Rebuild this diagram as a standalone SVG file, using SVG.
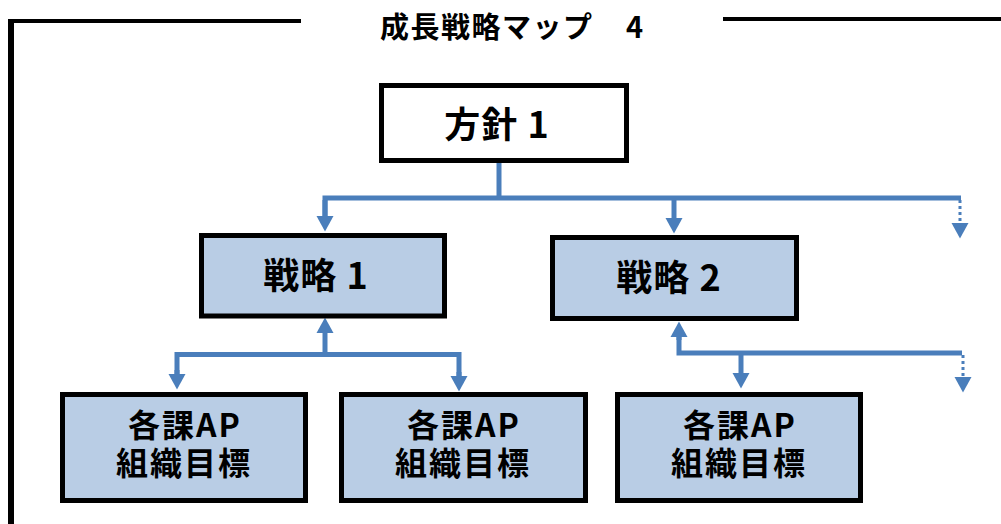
<svg xmlns="http://www.w3.org/2000/svg" width="1001" height="524" viewBox="0 0 1001 524">
<style>
text{font-family:"Noto Sans CJK JP","Liberation Sans",sans-serif;font-weight:bold;fill:#000}
.box{stroke:#000;stroke-width:5}
.blue{fill:#B9CDE5}
.conn{fill:none;stroke:#4A7EBB;stroke-width:5}
.dot{fill:none;stroke:#4A7EBB;stroke-width:3;stroke-dasharray:3 3}
.frame{stroke:#000;fill:none}
.ap{font-size:32px;letter-spacing:2px;text-anchor:middle}
</style>
<defs>
<marker id="ah" markerUnits="userSpaceOnUse" markerWidth="16" markerHeight="18" refX="0" refY="8.5" orient="auto" viewBox="0 0 16 17">
<path d="M0,0 L15.5,8.5 L0,17 z" fill="#4A7EBB"/>
</marker>
</defs>
<g id="frame">
<line class="frame" x1="8" y1="21" x2="301" y2="21" stroke-width="4"/>
<line class="frame" x1="11" y1="19" x2="11" y2="524" stroke-width="6"/>
<line class="frame" x1="723" y1="19" x2="1001" y2="19" stroke-width="4"/>
<text x="380" y="38" font-size="29" letter-spacing="1.5">成長戦略マップ<tspan x="626">4</tspan></text>
</g>
<g id="connectors">
<line class="conn" x1="499" y1="163" x2="499" y2="198"/>
<path class="conn" d="M325,216 V198 H961"/>
<line class="conn" x1="325" y1="200" x2="325" y2="216" marker-end="url(#ah)"/>
<line class="conn" x1="674" y1="198" x2="674" y2="218" marker-end="url(#ah)"/>
<line class="dot" x1="960" y1="200" x2="960" y2="223" marker-end="url(#ah)"/>
<line class="conn" x1="325" y1="354" x2="325" y2="333" marker-end="url(#ah)"/>
<path class="conn" d="M177,374 V354.5 H459 V376"/>
<line class="conn" x1="177" y1="370" x2="177" y2="374" marker-end="url(#ah)"/>
<line class="conn" x1="459" y1="372" x2="459" y2="376" marker-end="url(#ah)"/>
<path class="conn" d="M679,337 V353 H962"/>
<line class="conn" x1="679" y1="340" x2="679" y2="337" marker-end="url(#ah)"/>
<line class="conn" x1="741" y1="353" x2="741" y2="373" marker-end="url(#ah)"/>
<line class="dot" x1="963" y1="355" x2="963" y2="377" marker-end="url(#ah)"/>
</g>
<g id="policy1">
<rect class="box" x="381.5" y="85.5" width="245" height="75" fill="#fff"/>
<text x="497" y="138" font-size="36" text-anchor="middle" letter-spacing="1">方針 1</text>
</g>
<g id="strategy1">
<rect class="box blue" x="201.5" y="235.5" width="243" height="80.5"/>
<text x="316" y="289" font-size="36" text-anchor="middle" letter-spacing="1">戦略 1</text>
</g>
<g id="strategy2">
<rect class="box blue" x="552.5" y="237.5" width="244" height="81"/>
<text x="669" y="291" font-size="36" text-anchor="middle" letter-spacing="1">戦略 2</text>
</g>
<g id="ap1">
<rect class="box blue" x="62.5" y="394.5" width="243" height="106"/>
<text class="ap"><tspan x="185" y="437">各課AP</tspan><tspan x="184" y="475">組織目標</tspan></text>
</g>
<g id="ap2">
<rect class="box blue" x="341.5" y="394.5" width="244" height="106"/>
<text class="ap"><tspan x="464" y="437">各課AP</tspan><tspan x="463" y="475">組織目標</tspan></text>
</g>
<g id="ap3">
<rect class="box blue" x="617.5" y="394.5" width="243" height="106"/>
<text class="ap"><tspan x="740" y="437">各課AP</tspan><tspan x="739" y="475">組織目標</tspan></text>
</g>
</svg>
